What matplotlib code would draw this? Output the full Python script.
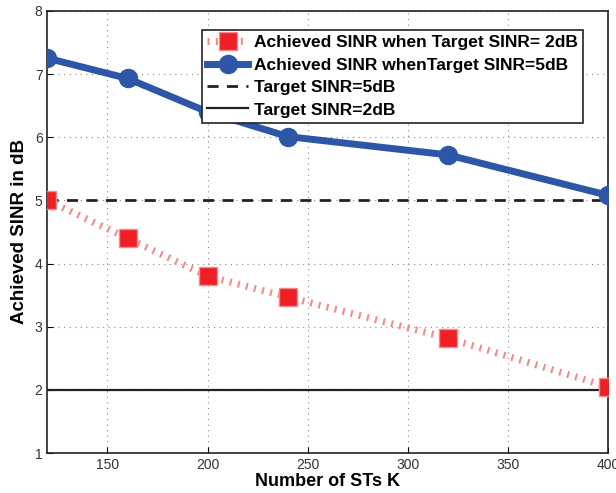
import numpy as np
import matplotlib
matplotlib.use("Agg")
import matplotlib.pyplot as plt

plt.rcParams["font.family"] = ["Liberation Sans", "DejaVu Sans"]

# data
num_sts = [120, 160, 200, 240, 320, 400]
sinr_target2 = [5.0, 4.4, 3.8, 3.47, 2.82, 2.05]
sinr_target5 = [7.25, 6.93, 6.4, 6.01, 5.72, 5.08]
target_hi = 5
target_lo = 2

fig = plt.figure(figsize=(6.16, 4.93), dpi=100)
ax = fig.add_axes([0.077, 0.081, 0.910, 0.897])

ax.plot(num_sts, sinr_target2, color="#f48a8a", linewidth=5,
        linestyle=(0, (0.3, 0.9)), marker="s", markersize=13,
        markerfacecolor="#ee2026", markeredgecolor="#f48a8a", markeredgewidth=1,
        label="Achieved SINR when Target SINR= 2dB", zorder=4)
ax.plot(num_sts, sinr_target5, color="#2e56a6", linewidth=5,
        marker="o", markersize=13, markerfacecolor="#2e56a6",
        markeredgecolor="#2e56a6",
        label="Achieved SINR whenTarget SINR=5dB", zorder=5)
ax.axhline(target_hi, color="#222222", linewidth=2, linestyle=(0, (4, 3)),
           label="Target SINR=5dB", zorder=3)
ax.axhline(target_lo, color="#222222", linewidth=1.6, linestyle="-",
           label="Target SINR=2dB", zorder=3)

ax.set_xlim(120, 400)
ax.set_ylim(1, 8)
ax.set_xticks([150, 200, 250, 300, 350, 400])
ax.set_yticks(range(1, 9))
ax.grid(True, color="#888888", linestyle=(0, (1, 4)), linewidth=0.8)
ax.tick_params(direction="in", labelsize=10, labelcolor="#333333", length=4)
for sp in ax.spines.values():
    sp.set_linewidth(1.2)
    sp.set_color("#222222")

ax.set_xlabel("Number of STs K", fontsize=13, fontweight="bold", labelpad=1)
ax.set_ylabel("Achieved SINR in dB", fontsize=13.5, fontweight="bold", labelpad=5)

leg = ax.legend(loc="upper right", bbox_to_anchor=(0.955, 0.957),
                prop={"weight": "bold", "size": 12.5}, frameon=True,
                fancybox=False, framealpha=1, handlelength=2.4,
                handletextpad=0.3, borderpad=0.3, labelspacing=0.42,
                borderaxespad=0)
leg.get_frame().set_edgecolor("#222222")
leg.get_frame().set_linewidth(1.2)
leg.set_zorder(10)

plt.savefig("out.png", dpi=100)
plt.close()
